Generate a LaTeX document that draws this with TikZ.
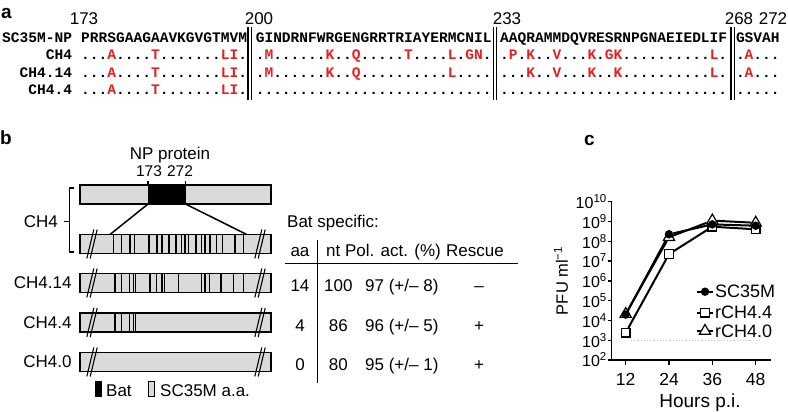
\documentclass[tikz,border=0pt]{standalone}
\usepackage{fontspec}
\setmainfont{Liberation Sans}
\newfontfamily\seqfamily{Liberation Mono}
\usetikzlibrary{shapes.geometric}
\definecolor{seqred}{RGB}{228,32,32}
\definecolor{bargray}{RGB}{218,218,218}
\newcommand{\R}[1]{\textcolor{seqred}{#1}}
\newcommand{\seqbf}{\seqfamily\bfseries\fontsize{14.55}{16}\selectfont}
\newcommand{\ysup}[1]{\raisebox{6pt}{\fontsize{11.5}{12}\selectfont #1}}
\pgfdeclarelayer{bg}
\pgfsetlayers{bg,main}
\begin{document}
\begin{tikzpicture}[x=1pt,y=-1pt,
  every node/.style={inner sep=0pt},
  seqtxt/.style={anchor=base west,font=\seqbf},
  seqlab/.style={anchor=base east,font=\seqbf},
  lbl/.style={font=\fontsize{17}{20}\selectfont},
  panel/.style={anchor=base west,font=\fontsize{19}{22}\selectfont\bfseries},
  dbar/.style={line width=1.2pt},
  barbox/.style={draw,fill=bargray,line width=1.3pt,minimum width=191pt,minimum height=19pt},
  stripe/.style={line width=1.2pt},
  brk/.style={line width=1.1pt},
  conn/.style={line width=1.5pt},
  axis/.style={line width=1.4pt},
  dline/.style={line width=2pt},
  circmark/.style={circle,fill=black,minimum size=8.5pt},
  sqmark/.style={rectangle,draw,fill=white,line width=1.2pt,minimum size=8.5pt},
  trimark/.style={regular polygon,regular polygon sides=3,draw,fill=white,line width=1.2pt,minimum size=13pt},
]
\useasboundingbox (0,0) rectangle (788,412);

% ---------------- panel a ----------------
\node[panel] (pa) at (1,19) {a};
\node[lbl,anchor=base] (n173) at (84,25) {173};
\node[lbl,anchor=base] (n200) at (259,25) {200};
\node[lbl,anchor=base] (n233) at (507,25) {233};
\node[lbl,anchor=base] (n268) at (739,25) {268};
\node[lbl,anchor=base] (n272) at (773,25) {272};

\node[seqlab] (l0) at (72.3,42.3) {SC35M-NP};
\node[seqtxt] (r0a) at (81,42.3) {PRRSGAAGAAVKGVGTMVM};
\node[seqtxt] (r0b) at (255.6,42.3) {GINDRNFWRGENGRRTRIAYERMCNIL};
\node[seqtxt] (r0c) at (500,42.3) {AAQRAMMDQVRESRNPGNAEIEDLIF};
\node[seqtxt] (r0d) at (735.8,42.3) {GSVAH};

\node[seqlab] (l1) at (72.3,60) {CH4};
\node[seqtxt] (r1a) at (81,60) {...\R{A}....\R{T}.......\R{LI}.};
\node[seqtxt] (r1b) at (255.6,60) {.\R{M}......\R{K}..\R{Q}.....\R{T}....\R{L}.\R{GN}.};
\node[seqtxt] (r1c) at (500,60) {.\R{P}.\R{K}..\R{V}...\R{K}.\R{GK}..........\R{L}.};
\node[seqtxt] (r1d) at (735.8,60) {.\R{A}...};

\node[seqlab] (l2) at (72.3,77.5) {CH4.14};
\node[seqtxt] (r2a) at (81,77.5) {...\R{A}....\R{T}.......\R{LI}.};
\node[seqtxt] (r2b) at (255.6,77.5) {.\R{M}......\R{K}..\R{Q}..........\R{L}....};
\node[seqtxt] (r2c) at (500,77.5) {...\R{K}..\R{V}...\R{K}..\R{K}..........\R{L}.};
\node[seqtxt] (r2d) at (735.8,77.5) {.\R{A}...};

\node[seqlab] (l3) at (72.3,95) {CH4.4};
\node[seqtxt] (r3a) at (81,95) {...\R{A}....\R{T}.......\R{LI}.};
\node[seqtxt] (r3b) at (255.6,95) {...........................};
\node[seqtxt] (r3c) at (500,95) {..........................};
\node[seqtxt] (r3d) at (735.8,95) {.....};

\foreach \bx in {248,251.3,493.5,496.8,731,734.3}
  \draw[dbar] (\bx,27) -- (\bx,100);

% ---------------- panel b ----------------
\node[panel] (pb) at (0,145) {b};
\node[lbl,anchor=base] (np) at (170,159.5) {NP protein};
\node[anchor=base,font=\fontsize{15.5}{18}\selectfont] (b173) at (149,176) {173};
\node[anchor=base,font=\fontsize{15.5}{18}\selectfont] (b272) at (180,176) {272};

\node[barbox] (bar0) at (175.5,194.5) {};
\node[fill=black,minimum width=37.7pt,minimum height=19pt] (blk) at (166.85,194.5) {};
\draw[line width=1.3pt] (80,185) rectangle (271,204);
\draw[line width=1.2pt] (148,185) -- (148,181);
\draw[line width=1.2pt] (185.7,185) -- (185.7,181);

\node[barbox] (bar1) at (175.5,244) {};
\node[barbox] (bar2) at (175.5,283) {};
\node[barbox] (bar3) at (175.5,322.5) {};
\node[barbox] (bar4) at (175.5,362) {};

\coordinate (ca) at (110,234.5);
\coordinate (cb) at (246.7,234.5);
\draw[conn] (blk.south west) -- (ca);
\draw[conn] (blk.south east) -- (cb);

\foreach \sx in {113.5,121.5,130,134.5,149,157,162,169,176,181.5,185,188.5,196,201.5,205,210,216.5,222.5,235,243.5}
  \draw[stripe] (\sx,234.5) -- (\sx,253.5);
\foreach \sx in {115,121.5,129.5,133.5,135.5,150,156.5,162,164.5,178.5,201.5,205,209.5,221,233.5,243.5}
  \draw[stripe] (\sx,273.5) -- (\sx,292.5);
\foreach \sx in {115,121.5,129.5,133.5,135.5}
  \draw[stripe] (\sx,313) -- (\sx,332);

\foreach \yt/\yb in {234.5/253.5,273.5/292.5,313/332,352.5/371.5}{
  \foreach \cx in {92,260}{
    \draw[brk] (\cx-5.2,\yb+5) -- (\cx+1.8,\yt-5);
    \draw[brk] (\cx-1.8,\yb+5) -- (\cx+5.2,\yt-5);
  }
}

\draw[line width=1.3pt] (74,188) -- (69.5,188) -- (69.5,252) -- (74,252);
\draw[line width=1.3pt] (69.5,221.5) -- (64,221.5);
\node[lbl,anchor=east] (lch4) at (58,221.5) {CH4};
\node[lbl,anchor=east] (lch414) at (71.7,283) {CH4.14};
\node[lbl,anchor=east] (lch44) at (71.7,322.5) {CH4.4};
\node[lbl,anchor=east] (lch40) at (71.7,362) {CH4.0};

\node[draw,fill=black,line width=0.8pt,minimum width=6pt,minimum height=15pt] (legbat) at (98.3,389.2) {};
\node[lbl,anchor=base west] (tbat) at (106,396.7) {Bat};
\node[draw,fill=bargray,line width=1pt,minimum width=6pt,minimum height=15pt] (legsc) at (151.7,389.2) {};
\node[lbl,anchor=base west] (tsc) at (160,396.7) {SC35M a.a.};

% table
\node[lbl,anchor=base west] (tbs) at (287,227.7) {Bat specific:};
\node[lbl,anchor=base] (thaa) at (300,256) {aa};
\node[lbl,anchor=base west] (thnt) at (326,256) {nt Pol. act. (\%)};
\node[lbl,anchor=base west] (thres) at (446,256) {Rescue};
\coordinate (vt) at (317.7,240);
\coordinate (vb) at (317.7,383);
\coordinate (hl) at (285,263.3);
\coordinate (hr) at (518.3,263.3);
\draw[line width=1.4pt] (vt) -- (vb);
\draw[line width=1.4pt] (hl) -- (hr);

\node[lbl,anchor=base] (a14) at (300,291.7) {14};
\node[lbl,anchor=base] (n100) at (338.3,291.7) {100};
\node[lbl,anchor=base west] (p97) at (365,291.7) {97 (+/– 8)};
\node[lbl,anchor=base] (rs1) at (479,291.7) {–};
\node[lbl,anchor=base] (a4) at (300,331) {4};
\node[lbl,anchor=base] (n86) at (338.3,331) {86};
\node[lbl,anchor=base west] (p96) at (365,331) {96 (+/– 5)};
\node[lbl,anchor=base] (rs2) at (479,331) {+};
\node[lbl,anchor=base] (a0) at (300,370.5) {0};
\node[lbl,anchor=base] (n80) at (338.3,370.5) {80};
\node[lbl,anchor=base west] (p95) at (365,370.5) {95 (+/– 1)};
\node[lbl,anchor=base] (rs3) at (479,370.5) {+};

% ---------------- panel c ----------------
\node[panel] (pc) at (584,146) {c};
\coordinate (ytop) at (611.7,201.7);
\coordinate (orig) at (611.7,360);
\coordinate (xend) at (770.7,360);
\draw[axis] (ytop) -- (orig) -- (xend);
\foreach \n in {2,...,10}{
  \pgfmathsetmacro{\yy}{360-(\n-2)*19.8}
  \draw[axis] (607.5,\yy) -- (611.7,\yy);
  \node[anchor=east,font=\fontsize{16}{17}\selectfont] (yl\n) at (606.5,\yy) {10\ysup{\n}};
}
\foreach \hx/\hl in {625.7/12,669/24,712.3/36,755.7/48}{
  \draw[axis] (\hx,360) -- (\hx,365);
  \node[anchor=base,font=\fontsize{17.5}{20}\selectfont] (xl\hl) at (\hx,385) {\hl};
}
\node[anchor=base,font=\fontsize{19}{22}\selectfont] (xt) at (700,407) {Hours p.i.};
\node[rotate=90,font=\fontsize{16.5}{20}\selectfont] (yt) at (561,281) {PFU ml\ysup{−1}};

\coordinate (dl1) at (631,340.2);
\coordinate (dl2) at (760,340.2);
\draw[gray!45,line width=1.2pt,dotted] (dl1) -- (dl2);

% markers
\node[sqmark] (q12) at (625.7,332.7) {};
\node[sqmark] (q24) at (669,254.1) {};
\node[sqmark] (q36) at (712.3,226.7) {};
\node[sqmark] (q48) at (755.7,229.3) {};
\node[trimark] (t12) at (625.7,314.1) {};
\node[trimark] (t24) at (669,237.2) {};
\node[trimark] (t36) at (712.3,220.6) {};
\node[trimark] (t48) at (755.7,222.8) {};
\node[circmark] (c12) at (625.7,314.6) {};
\node[circmark] (c24) at (669,234.3) {};
\node[circmark] (c36) at (712.3,224.4) {};
\node[circmark] (c48) at (755.7,225.7) {};

% legend
\node[circmark] (lc) at (705,291.7) {};
\node[sqmark] (lq) at (705,312.7) {};
\node[trimark] (lt) at (705,331) {};
\coordinate (lc1) at (697,291.7); \coordinate (lc2) at (713,291.7);
\coordinate (lq1) at (697,312.7); \coordinate (lq2) at (713,312.7);
\coordinate (lt1) at (697,331); \coordinate (lt2) at (713,331);
\node[anchor=west,font=\fontsize{18}{20}\selectfont] (tl1) at (715,291.7) {SC35M};
\node[anchor=west,font=\fontsize{18}{20}\selectfont] (tl2) at (715,312.7) {rCH4.4};
\node[anchor=west,font=\fontsize{18}{20}\selectfont] (tl3) at (715,331) {rCH4.0};

\begin{pgfonlayer}{bg}
  \draw[dline] (q12) -- (q24) -- (q36) -- (q48);
  \draw[dline] (t12) -- (t24) -- (t36) -- (t48);
  \draw[dline] (c12) -- (c24) -- (c36) -- (c48);
  \draw[line width=1.6pt] (lc1) -- (lc2);
  \draw[line width=1.6pt] (lq1) -- (lq2);
  \draw[line width=1.6pt] (lt1) -- (lt2);
\end{pgfonlayer}
\end{tikzpicture}
\end{document}
